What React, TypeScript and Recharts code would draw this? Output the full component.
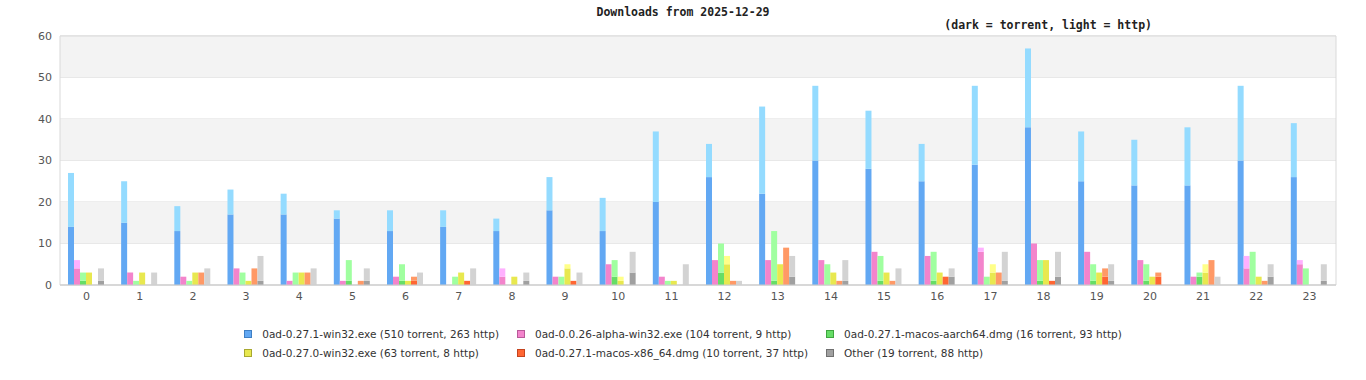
import React from 'react';
import { BarChart, Bar, XAxis, YAxis, CartesianGrid, ReferenceArea } from 'recharts';

const hours = ['0','1','2','3','4','5','6','7','8','9','10','11','12','13','14','15','16','17','18','19','20','21','22','23'];

const win32Torrent = [14,15,13,17,17,16,13,14,13,18,13,20,26,22,30,28,25,29,38,25,24,24,30,26];
const win32Http    = [13,10,6,6,5,2,5,4,3,8,8,17,8,21,18,14,9,19,19,12,11,14,18,13];
const alphaTorrent = [4,3,2,4,1,1,2,0,2,2,5,2,6,6,6,8,7,8,10,8,6,2,4,5];
const alphaHttp    = [2,0,0,0,0,0,0,0,2,0,0,0,0,0,0,0,0,1,0,0,0,0,3,1];
const aarchTorrent = [1,0,0,0,0,1,1,0,0,0,2,0,3,1,0,1,1,0,1,1,1,2,0,0];
const aarchHttp    = [2,1,1,3,3,5,4,2,0,2,4,1,7,12,5,6,7,2,5,4,4,1,8,4];
const w270Torrent  = [3,3,3,1,3,0,1,3,2,4,1,1,5,5,3,3,3,3,6,3,2,3,2,0];
const w270Http     = [0,0,0,0,0,0,0,0,0,1,1,0,2,0,0,0,0,2,0,0,0,2,0,0];
const x86Torrent   = [0,0,0,0,0,0,1,1,0,1,0,0,0,0,0,0,2,0,1,2,2,0,0,0];
const x86Http      = [0,0,3,4,3,1,1,0,0,0,0,0,1,9,1,1,0,3,0,2,1,6,1,0];
const otherTorrent = [1,0,0,1,0,1,0,0,1,0,3,0,0,2,1,0,2,1,2,1,0,0,2,1];
const otherHttp    = [3,3,4,6,4,3,3,4,2,3,5,5,1,5,5,4,2,7,6,4,0,2,3,4];

const seriesNames = [
  '0ad-0.27.1-win32.exe (510 torrent, 263 http)',
  '0ad-0.0.26-alpha-win32.exe (104 torrent, 9 http)',
  '0ad-0.27.1-macos-aarch64.dmg (16 torrent, 93 http)',
  '0ad-0.27.0-win32.exe (63 torrent, 8 http)',
  '0ad-0.27.1-macos-x86_64.dmg (10 torrent, 37 http)',
  'Other (19 torrent, 88 http)',
];
const seriesKeys = ['win32', 'alpha', 'aarch', 'w270', 'x86', 'other'];
const torrentValues = [win32Torrent, alphaTorrent, aarchTorrent, w270Torrent, x86Torrent, otherTorrent];
const httpValues = [win32Http, alphaHttp, aarchHttp, w270Http, x86Http, otherHttp];
const darkColors = ['#62a8f3', '#f384cc', '#66dd66', '#e8e84f', '#ff6633', '#a0a0a0'];
const lightColors = ['#94dbff', '#ffb0ff', '#a0ffa0', '#ffff88', '#ff9966', '#d3d3d3'];
const borderColors = ['#3f7fc4', '#b85a99', '#3fa53f', '#a8a830', '#c4441f', '#707070'];
const yTicks = [0, 10, 20, 30, 40, 50, 60];

const data = hours.map((h, i) => {
  const row: Record<string, string | number> = { hour: h };
  seriesKeys.forEach((k, s) => {
    row[k + 'T'] = torrentValues[s][i];
    row[k + 'H'] = httpValues[s][i];
  });
  return row;
});

const legendOrder = [0, 1, 2, 3, 4, 5];

export default function App() {
  return (
    <div style={{ position: 'absolute', left: 0, top: 0, width: 1366, height: 380, background: '#fff', overflow: 'hidden' }}>
      <div style={{ position: 'absolute', top: 5, left: 0, width: 1366, textAlign: 'center', fontFamily: '"DejaVu Sans Mono", monospace', fontWeight: 'bold', fontSize: 11.5, lineHeight: '14px', color: '#222' }}>
        Downloads from 2025-12-29
      </div>
      <div style={{ position: 'absolute', top: 18, right: 214, fontFamily: '"DejaVu Sans Mono", monospace', fontWeight: 'bold', fontSize: 11.5, lineHeight: '14px', color: '#222', whiteSpace: 'pre' }}>
        (dark = torrent, light = http)
      </div>
      <BarChart width={1366} height={380} data={data} margin={{ top: 36, right: 30, bottom: 65, left: 0 }} barCategoryGap="15%" barGap={0}>
        <ReferenceArea y1={10} y2={20} fill="#f3f3f3" fillOpacity={1} stroke="none" />
        <ReferenceArea y1={30} y2={40} fill="#f3f3f3" fillOpacity={1} stroke="none" />
        <ReferenceArea y1={50} y2={60} fill="#f3f3f3" fillOpacity={1} stroke="none" />
        <CartesianGrid vertical={false} stroke="#dddddd" />
        <ReferenceArea y1={0} y2={60} fill="none" stroke="#d9d9d9" strokeOpacity={1} />
        <XAxis dataKey="hour" height={30} tickLine={false} axisLine={{ stroke: '#cccccc' }} tickSize={0} tickMargin={7}
          tick={{ fill: '#555', fontSize: 11, fontFamily: '"DejaVu Sans", sans-serif' }} interval={0} />
        <YAxis width={60} domain={[0, 60]} ticks={yTicks} tickLine={false} axisLine={false} tickSize={0} tickMargin={8}
          tick={{ fill: '#555', fontSize: 11, fontFamily: '"DejaVu Sans", sans-serif' }} />
        {seriesKeys.map((k, s) => [
          <Bar key={k + 'T'} dataKey={k + 'T'} stackId={k} fill={darkColors[s]} isAnimationActive={false} />,
          <Bar key={k + 'H'} dataKey={k + 'H'} stackId={k} fill={lightColors[s]} isAnimationActive={false} />,
        ])}
      </BarChart>
      <div style={{ position: 'absolute', top: 327, left: 0, width: 1366, display: 'flex', justifyContent: 'center' }}>
        <div style={{ display: 'grid', gridTemplateColumns: 'auto auto auto', columnGap: 18, rowGap: 5, fontFamily: '"DejaVu Sans", sans-serif', fontSize: 10.5, color: '#333' }}>
          {legendOrder.map((s) => (
            <div key={s} style={{ display: 'flex', alignItems: 'center', height: 14, whiteSpace: 'pre' }}>
              <span style={{ display: 'inline-block', width: 6, height: 6, background: darkColors[s], border: '1px solid ' + borderColors[s], marginRight: 10 }} />
              <span>{seriesNames[s]}</span>
            </div>
          ))}
        </div>
      </div>
    </div>
  );
}
